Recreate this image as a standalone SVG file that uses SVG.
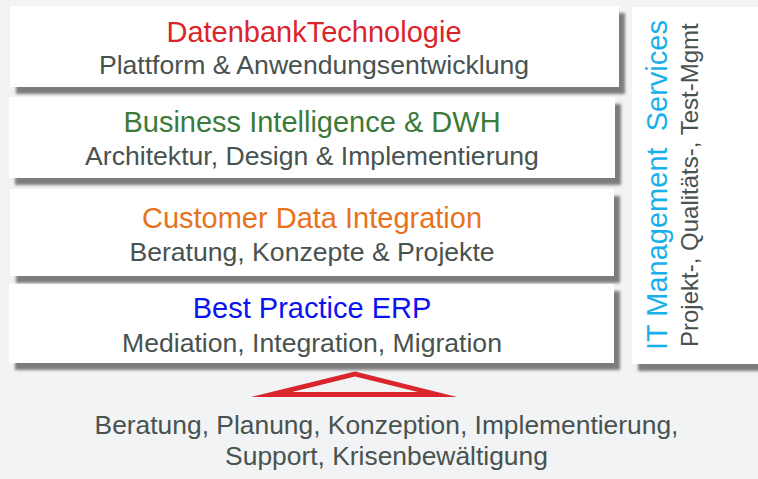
<svg xmlns="http://www.w3.org/2000/svg" width="758" height="479" viewBox="0 0 758 479">
  <defs>
    <filter id="soft" x="-5%" y="-20%" width="110%" height="140%">
      <feGaussianBlur stdDeviation="1.6"/>
    </filter>
    <style>
      .bg { fill: #f2f3f5; }
      .card { fill: #ffffff; }
      .shadow { fill: #7c7c7c; filter: url(#soft); }
      text { font-family: "Liberation Sans", Arial, sans-serif; }
      .title { font-size: 29px; text-anchor: middle; }
      .sub { font-size: 26.6px; text-anchor: middle; fill: #48524f; }
      .red { fill: #d9252b; }
      .green { fill: #3b7a3a; }
      .orange { fill: #e8721c; }
      .blue { fill: #0a14f0; }
      .cyan { fill: #18b0ea; font-size: 29px; white-space: pre; }
      .side { fill: #48524f; font-size: 24px; }
      .foot { font-size: 26.4px; text-anchor: middle; fill: #48524f; }
      .arrow { fill: #d9252b; fill-rule: evenodd; }
    </style>
  </defs>

  <rect class="bg" x="0" y="0" width="758" height="479"/>

  <!-- stacked layers -->
  <g id="layer-datenbank">
    <rect class="shadow" x="16" y="13" width="609" height="81"/>
    <rect class="card" x="10" y="6" width="609" height="81"/>
    <text class="title red" x="314" y="41.5">DatenbankTechnologie</text>
    <text class="sub" x="314" y="74">Plattform &amp; Anwendungsentwicklung</text>
  </g>

  <g id="layer-bi">
    <rect class="shadow" x="15" y="104" width="606" height="81"/>
    <rect class="card" x="9" y="97" width="606" height="81"/>
    <text class="title green" x="312" y="131.5">Business Intelligence &amp; DWH</text>
    <text class="sub" x="312" y="164.5">Architektur, Design &amp; Implementierung</text>
  </g>

  <g id="layer-cdi">
    <rect class="shadow" x="16" y="196" width="604" height="87"/>
    <rect class="card" x="10" y="189" width="604" height="87"/>
    <text class="title orange" x="312" y="227.5">Customer Data Integration</text>
    <text class="sub" x="312" y="261">Beratung, Konzepte &amp; Projekte</text>
  </g>

  <g id="layer-erp">
    <rect class="shadow" x="15" y="291" width="605" height="79"/>
    <rect class="card" x="9" y="284" width="605" height="79"/>
    <text class="title blue" x="312" y="317.5">Best Practice ERP</text>
    <text class="sub" x="312" y="351.5">Mediation, Integration, Migration</text>
  </g>

  <!-- side column -->
  <g id="it-management">
    <rect class="shadow" x="638" y="14" width="130" height="357"/>
    <rect class="card" x="632" y="7" width="130" height="357"/>
    <text class="cyan" transform="translate(666.5,350) rotate(-90)">IT Management  Services</text>
    <text class="side" transform="translate(697.5,347) rotate(-90)">Projekt-, Qualitäts-, Test-Mgmt</text>
  </g>

  <!-- foundation arrow -->
  <g id="connectors">
    <path class="arrow" d="M355,371.5 L251,397 L457,397 Z M355,376.5 L292,392 L418,392 Z"/>
  </g>

  <g id="foundation">
    <text class="foot" x="386.5" y="433.5">Beratung, Planung, Konzeption, Implementierung,</text>
    <text class="foot" x="386.5" y="464.5">Support, Krisenbewältigung</text>
  </g>
</svg>
